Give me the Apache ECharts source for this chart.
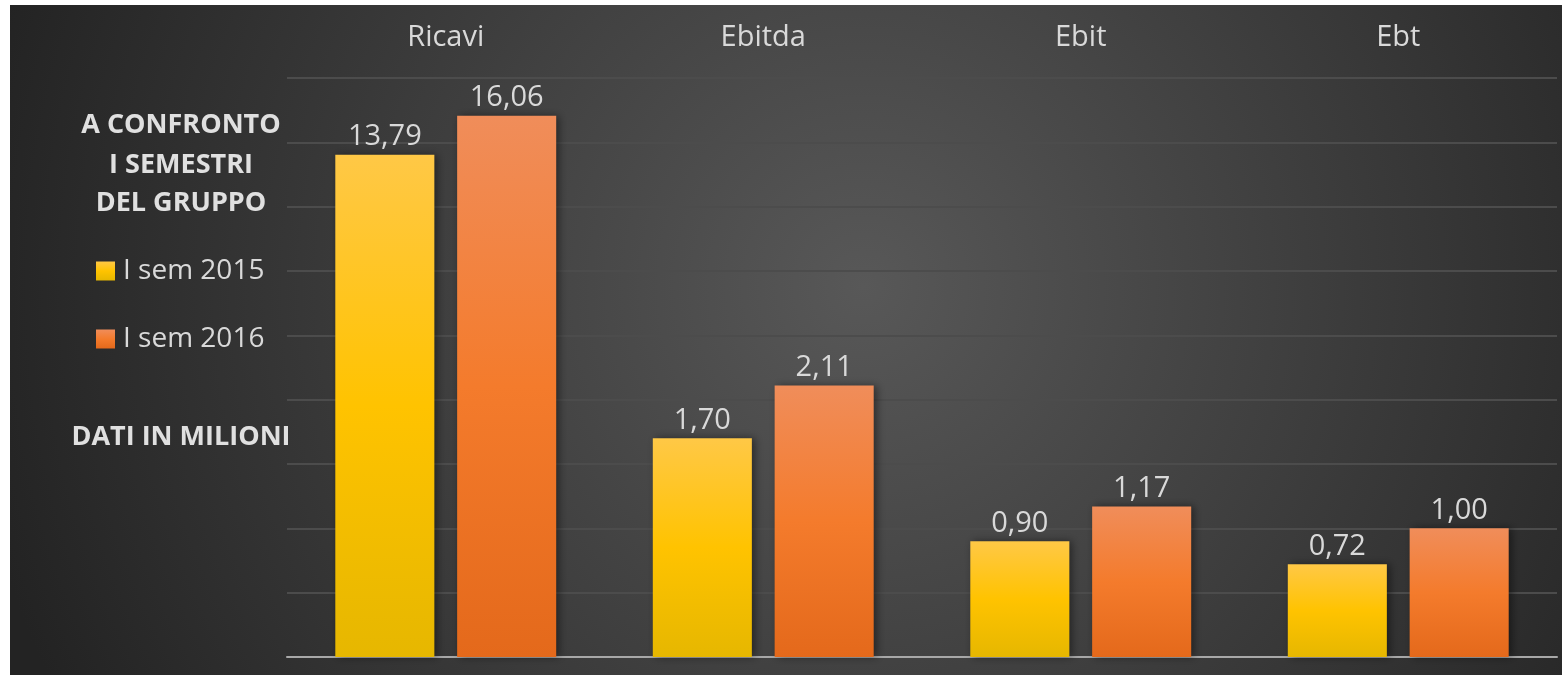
<!DOCTYPE html>
<html>
<head>
<meta charset="utf-8">
<script src="https://cdn.jsdelivr.net/npm/echarts@6/dist/echarts.min.js"></script>
<style>
html,body{margin:0;padding:0;background:#ffffff;}
#c{width:1564px;height:686px;}
</style>
</head>
<body>
<div id="c"></div>
<script>
const categories = ['Ricavi', 'Ebitda', 'Ebit', 'Ebt'];
const seriesNames = ['I sem 2015', 'I sem 2016'];
// Ricavi is drawn on its own (compressed) scale in the original
const ricavi2015 = [13.79, '-', '-', '-'];
const ricavi2016 = [16.06, '-', '-', '-'];
const other2015 = ['-', 1.70, 0.90, 0.72];
const other2016 = ['-', 2.11, 1.17, 1.00];
const titleLines = ['A CONFRONTO', 'I SEMESTRI', 'DEL GRUPPO'];
const noteText = 'DATI IN MILIONI';

const FONT = 'Open Sans';
const TXT = '#d9d9d9';

const yellow = {type:'linear', x:0, y:0, x2:0, y2:1, colorStops:[
  {offset:0, color:'#ffc846'}, {offset:0.5, color:'#ffc300'}, {offset:1, color:'#e6b700'}]};
const orange = {type:'linear', x:0, y:0, x2:0, y2:1, colorStops:[
  {offset:0, color:'#f08d5a'}, {offset:0.5, color:'#f47b2c'}, {offset:1, color:'#e4691b'}]};

const fmt = p => Number(p.value).toFixed(2).replace('.', ',');
const label = {show:true, position:'top', distance:3, color:TXT, fontSize:29, fontFamily:FONT, formatter:fmt};
const shadow = {shadowBlur:8, shadowColor:'rgba(0,0,0,0.45)', shadowOffsetX:3, shadowOffsetY:0};

function bar(name, data, color, xi, yi) {
  return {
    name, type:'bar', data, xAxisIndex:xi, yAxisIndex:yi, clip:true,
    barWidth:'31.2%', barGap:'23%',
    itemStyle:Object.assign({color}, shadow),
    label
  };
}

const chart = echarts.init(document.getElementById('c'));
const graphics = [
  {type:'rect', z:-10, silent:true, shape:{x:10, y:5, width:1552, height:670},
   style:{fill:{type:'radial', x:0.55, y:0.42, r:1.35, colorStops:[
     {offset:0, color:'#585858'}, {offset:1, color:'#232323'}]}}}
];
const titleY = [125, 165, 203];
titleLines.forEach((t, i) => graphics.push({
  type:'text', x:181, y:titleY[i], z:10,
  style:{text:t, fill:'#e0e0e0', font:'bold 27px "' + FONT + '"', textAlign:'center', textVerticalAlign:'middle'}
}));
graphics.push({
  type:'text', x:181, y:437, z:10,
  style:{text:noteText, fill:'#e0e0e0', font:'bold 27px "' + FONT + '"', textAlign:'center', textVerticalAlign:'middle'}
});

chart.setOption({
  backgroundColor:'transparent',
  animation:false,
  graphic:graphics,
  legend:{
    orient:'vertical', left:96, top:257, padding:0, itemWidth:19, itemHeight:19, itemGap:40,
    icon:'rect', data:seriesNames,
    textStyle:{color:TXT, fontSize:28, fontFamily:FONT, padding:[0,0,0,3]}
  },
  grid:{left:287, right:7, top:78, bottom:29, containLabel:false},
  xAxis:[
    {type:'category', data:categories, position:'top',
     axisLine:{show:false}, axisTick:{show:false},
     axisLabel:{color:TXT, fontSize:29, fontFamily:FONT, margin:26}},
    {type:'category', data:categories, position:'bottom',
     axisLine:{show:true, lineStyle:{color:'#a8a8a8', width:2}}, axisTick:{show:false},
     axisLabel:{show:false}}
  ],
  yAxis:[
    {type:'value', min:0, max:4.5, interval:0.5,
     axisLabel:{show:false}, axisLine:{show:false}, axisTick:{show:false},
     splitLine:{lineStyle:{color:'#4c4c4c', width:2}}},
    {type:'log', logBase:10, min:1.945, max:18.6, show:false, splitLine:{show:false}}
  ],
  series:[
    bar(seriesNames[0], other2015, yellow, 0, 0),
    bar(seriesNames[1], other2016, orange, 0, 0),
    bar(seriesNames[0], ricavi2015, yellow, 1, 1),
    bar(seriesNames[1], ricavi2016, orange, 1, 1)
  ]
});
</script>
</body>
</html>
